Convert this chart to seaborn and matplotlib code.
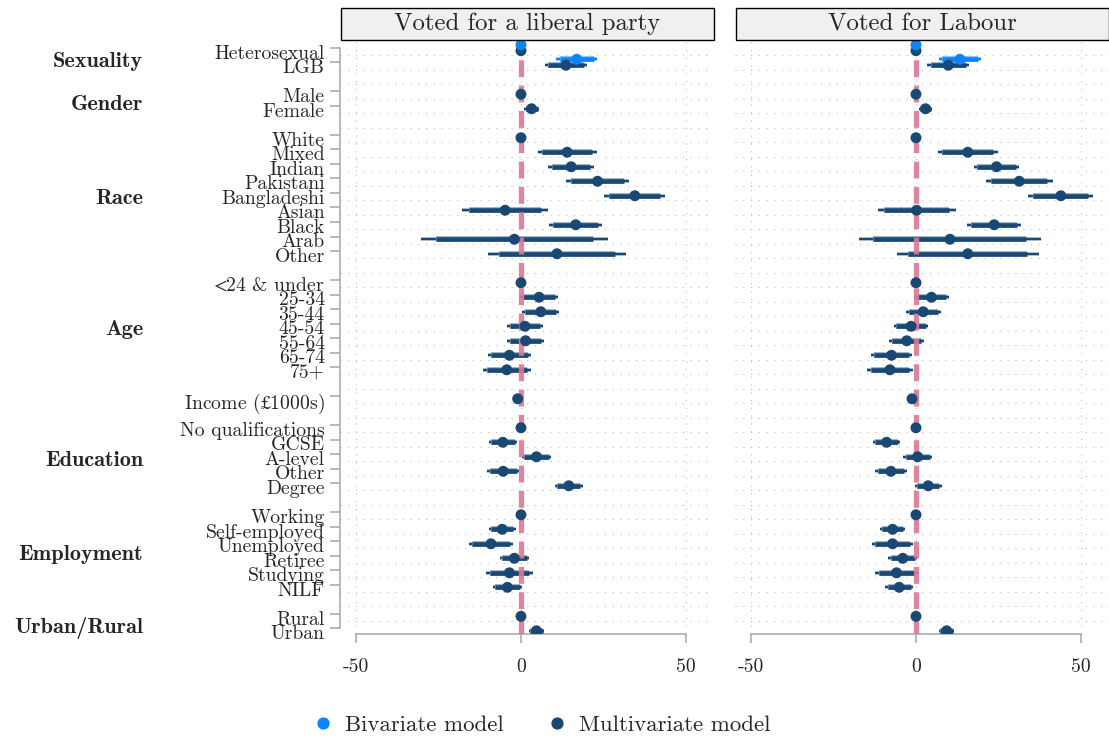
import numpy as np
import pandas as pd
import matplotlib
matplotlib.use("Agg")
import matplotlib.pyplot as plt
import seaborn as sns
from matplotlib.lines import Line2D
from matplotlib.patches import Rectangle
from matplotlib import transforms
import matplotlib.patheffects as pe

# ---- categories -------------------------------------------------------
groups = ["Sexuality", "Gender", "Race", "Age", "", "Education", "Employment", "Urban/Rural"]
levels = [
    ["Heterosexual", "LGB"],
    ["Male", "Female"],
    ["White", "Mixed", "Indian", "Pakistani", "Bangladeshi", "Asian", "Black", "Arab", "Other"],
    [r"$<\!\!$24 & under", "25-34", "35-44", "45-54", "55-64", "65-74", "75+"],
    [r"Income ($\mathit{£}$1000s)"],
    ["No qualifications", "GCSE", "A-level", "Other", "Degree"],
    ["Working", "Self-employed", "Unemployed", "Retiree", "Studying", "NILF"],
    ["Rural", "Urban"],
]
panels = ["Voted for a liberal party", "Voted for Labour"]
models = ["Bivariate model", "Multivariate model"]

# ---- estimates (percentage points) and standard errors ----------------
lib_multi_est = [0, 13.6, 0, 3.2, 0, 14.0, 15.2, 23.2, 34.5, -4.8, 16.6, -2.0, 10.9,
                 0, 5.5, 6.0, 1.2, 1.4, -3.5, -4.3, -1.0, 0, -5.5, 4.7, -5.4, 14.5,
                 0, -5.7, -9.1, -2.0, -3.5, -4.1, 0, 4.7]
lib_multi_se = [0, 3.27, 0, 1.10, 0, 4.57, 3.55, 4.85, 4.72, 6.60, 4.13, 14.4, 10.7,
                0, 2.96, 2.88, 2.83, 2.83, 3.39, 3.70, 0.20, 0, 2.19, 2.27, 2.50, 2.12,
                0, 2.07, 3.42, 2.27, 3.60, 2.30, 0, 1.22]
lab_multi_est = [0, 9.8, 0, 2.9, 0, 15.7, 24.4, 31.3, 43.9, 0.2, 23.7, 10.3, 15.7,
                 0, 4.7, 2.2, -1.5, -2.8, -7.4, -7.9, -1.2, 0, -8.9, 0.5, -7.6, 3.7,
                 0, -7.1, -7.1, -4.0, -5.9, -5.1, 0, 9.3]
lab_multi_se = [0, 3.27, 0, 1.02, 0, 4.67, 3.52, 5.15, 5.05, 6.02, 4.18, 14.1, 11.0,
                0, 2.76, 2.70, 2.68, 2.68, 3.21, 3.52, 0.20, 0, 2.12, 2.22, 2.45, 2.07,
                0, 1.94, 3.21, 2.22, 3.29, 2.14, 0, 1.15]

# bivariate model: sexuality only (indices into the term list)
biv_index = [0, 1]
lib_biv_est = [0, 16.9]
lib_biv_se = [0, 3.14]
lab_biv_est = [0, 13.3]
lab_biv_se = [0, 3.27]

# ---- styling ----------------------------------------------------------
sns.set_theme(style="white")
plt.rcParams["font.family"] = ["cmr10", "DejaVu Serif"]
plt.rcParams["mathtext.fontset"] = "custom"
plt.rcParams["mathtext.rm"] = "STIXGeneral"
plt.rcParams["mathtext.it"] = "STIXGeneral:italic"
plt.rcParams["axes.unicode_minus"] = False
plt.rcParams["axes.formatter.use_mathtext"] = True

NAVY = "#1a4874"
LIGHT = "#0a84ff"
RED = "#dc7892"
SPINE = "#a6a6a6"
FS = 14.2

# ---- row layout: one row per level, one blank row between groups ------
terms, rows, group_rows = [], [], []
r = 0
for g, lv in zip(groups, levels):
    start = r
    for name in lv:
        terms.append(name)
        rows.append(r)
        r += 1
    group_rows.append((g, (start + r - 1) / 2))
    r += 1
rows = np.array(rows, dtype=float)
last_row = rows[-1]

records = []
for panel, est, se in [(panels[0], lib_multi_est, lib_multi_se),
                       (panels[1], lab_multi_est, lab_multi_se)]:
    for i, (e, s) in enumerate(zip(est, se)):
        records.append(dict(panel=panel, model=models[1], term=terms[i], est=e, se=s,
                            y=rows[i] + 0.19))
for panel, est, se in [(panels[0], lib_biv_est, lib_biv_se),
                       (panels[1], lab_biv_est, lab_biv_se)]:
    for i, e, s in zip(biv_index, est, se):
        records.append(dict(panel=panel, model=models[0], term=terms[i], est=e, se=s,
                            y=rows[i] - 0.22))
df = pd.DataFrame(records)
df["lo95"] = df.est - 1.96 * df.se
df["hi95"] = df.est + 1.96 * df.se
df["lo90"] = df.est - 1.645 * df.se
df["hi90"] = df.est + 1.645 * df.se

W, H = 1109, 737
fig = plt.figure(figsize=(W / 100, H / 100), dpi=100)
ax_l = fig.add_axes([340 / W, 1 - 634 / H, 374 / W, 594 / H])
ax_r = fig.add_axes([735 / W, 1 - 634 / H, 374 / W, 594 / H], sharex=ax_l, sharey=ax_l)
palette = {models[0]: LIGHT, models[1]: NAVY}
halo = {models[0]: "#8cc4ff", models[1]: "#9fb4ca"}

label_shift = transforms.ScaledTranslation(0, -4 / 100, fig.dpi_scale_trans)

for ax, panel in zip([ax_l, ax_r], panels):
    sub = df[df.panel == panel]
    for m in models:
        d = sub[(sub.model == m) & (sub.se > 0)]
        ax.hlines(d.y, d.lo95, d.hi95, color=palette[m], lw=1.5, zorder=3,
                  path_effects=[pe.Stroke(linewidth=2.6, foreground=halo[m]), pe.Normal()])
        ax.hlines(d.y, d.lo90, d.hi90, color=palette[m], lw=3.3, zorder=3,
                  path_effects=[pe.Stroke(linewidth=4.3, foreground=halo[m]), pe.Normal()])
    ax.axvline(0, color=RED, lw=3.8, alpha=0.9, dashes=(3.2, 1.6), zorder=4)
    sns.scatterplot(data=sub, x="est", y="y", hue="model", hue_order=models,
                    palette=palette, s=62, edgecolor="none", legend=False,
                    zorder=5, ax=ax)

    ax.set_xlim(-54.85, 58.5)
    ax.set_ylim(last_row + 0.41, -0.55)
    ax.set_xticks([-50, 0, 50])
    ax.set_xticklabels(["-50", "0", "50"], fontsize=FS)
    ax.set_xlabel("")
    ax.set_ylabel("")
    ax.set_yticks(rows)
    ax.set_yticks(np.arange(last_row) + 0.5, minor=True)
    ax.grid(False)
    ax.grid(axis="x", which="major", color="#bdbdbd", lw=0.8, linestyle=(0, (1, 6)))
    ax.grid(axis="y", which="minor", color="#bdbdbd", lw=0.8, linestyle=(0, (1, 6)))
    ax.set_axisbelow(True)
    for s in ["top", "right"]:
        ax.spines[s].set_visible(False)
    ax.spines["bottom"].set_bounds(-50, 50)
    ax.spines["bottom"].set_color(SPINE)
    ax.spines["bottom"].set_linewidth(1.1)
    ax.tick_params(axis="x", which="major", direction="out", length=6.5, width=1.1,
                   color=SPINE, pad=11, bottom=True)
    ax.tick_params(axis="y", which="minor", length=0)

    # facet strip
    ax.add_patch(Rectangle((0.003, 1.0), 0.997, 32 / 594, transform=ax.transAxes,
                           facecolor="#f0f0f0", edgecolor="black", lw=1.0,
                           clip_on=False, zorder=10))
    ax.text(0.5, 1.0 + 16 / 594, panel, transform=ax.transAxes, ha="center",
            va="center", fontsize=17.8, zorder=11)

# left panel: term labels and group headers
ax_l.spines["left"].set_bounds(0, last_row)
ax_l.spines["left"].set_color(SPINE)
ax_l.spines["left"].set_linewidth(1.1)
ax_l.set_yticklabels(terms, fontsize=FS)
ax_l.tick_params(axis="y", which="major", direction="out", length=7, width=1.1,
                 color=SPINE, pad=4, left=True)
for lab in ax_l.get_yticklabels():
    lab.set_transform(lab.get_transform() + label_shift)
grp_trans = transforms.blended_transform_factory(fig.transFigure, ax_l.transData) + label_shift
for g, gy in group_rows:
    if g:
        ax_l.text(143 / W, gy, g, transform=grp_trans, ha="right", va="center_baseline",
                  fontsize=16, family="cmb10")

ax_r.spines["left"].set_visible(False)
ax_r.tick_params(axis="y", which="both", left=False, labelleft=False)

handles = [Line2D([], [], marker="o", ls="", color=palette[m], markersize=7.8) for m in models]
fig.legend(handles, models, loc="center", bbox_to_anchor=(0.488, 1 - 725 / H), ncol=2,
           frameon=False, fontsize=16.5, handlelength=1.0, handletextpad=0.46,
           columnspacing=1.83)

fig.savefig("out.png", dpi=100)
